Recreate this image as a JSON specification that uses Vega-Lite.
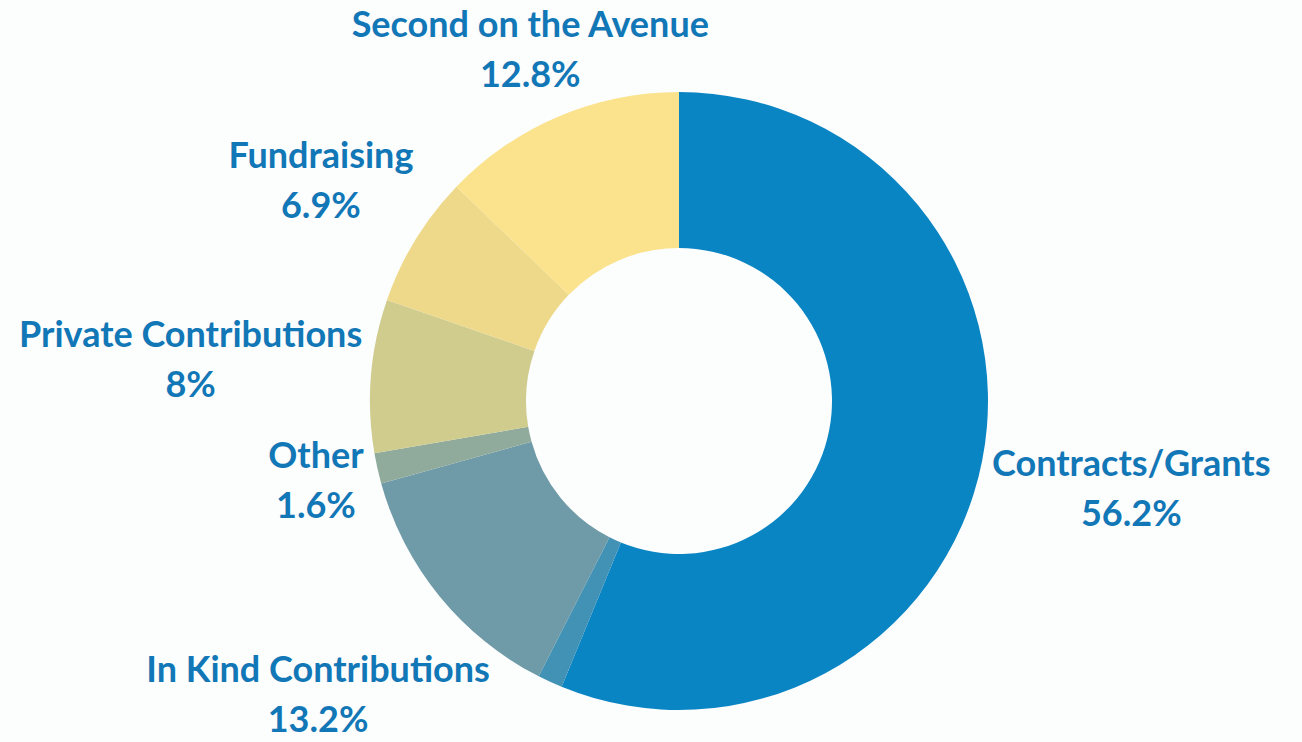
{
  "$schema": "https://vega.github.io/schema/vega-lite/v6.json",
  "width": 1246,
  "height": 682,
  "autosize": {"type": "none"},
  "padding": {"left": 56, "right": 0, "top": 60, "bottom": 0},
  "background": "#fcfdfd",
  "config": {"view": {"stroke": null}},
  "data": {
    "values": [
      {"idx": 1, "name": "Contracts/Grants", "value": 56.2, "label": ["Contracts/Grants", "56.2%"]},
      {"idx": 2, "name": "Unlabeled", "value": 1.3, "label": [""]},
      {"idx": 3, "name": "In Kind Contributions", "value": 13.2, "label": ["In Kind Contributions", "13.2%"]},
      {"idx": 4, "name": "Other", "value": 1.6, "label": ["Other", "1.6%"]},
      {"idx": 5, "name": "Private Contributions", "value": 8.0, "label": ["Private Contributions", "8%"]},
      {"idx": 6, "name": "Fundraising", "value": 6.9, "label": ["Fundraising", "6.9%"]},
      {"idx": 7, "name": "Second on the Avenue", "value": 12.8, "label": ["Second on the Avenue", "12.8%"]}
    ]
  },
  "layer": [
    {
      "mark": {"type": "arc", "outerRadius": 309, "innerRadius": 153, "stroke": null},
      "encoding": {
        "theta": {"field": "value", "type": "quantitative", "stack": true},
        "order": {"field": "idx", "type": "quantitative"},
        "color": {
          "field": "name",
          "type": "nominal",
          "legend": null,
          "scale": {
            "domain": ["Contracts/Grants", "Unlabeled", "In Kind Contributions", "Other", "Private Contributions", "Fundraising", "Second on the Avenue"],
            "range": ["#0a85c4", "#4192b5", "#6f9aa8", "#90aa9c", "#cfcc8e", "#eed98b", "#fae38c"]
          }
        }
      }
    },
    {
      "mark": {
        "type": "text",
        "font": "Lato",
        "fontWeight": "bold",
        "fontSize": 36,
        "lineHeight": 50,
        "align": "center",
        "baseline": "middle",
        "dy": -25,
        "color": "#1177b6",
        "radius": {"expr": "datum.name === 'Contracts/Grants' ? 461 : datum.name === 'In Kind Contributions' ? 466 : datum.name === 'Other' ? 372 : datum.name === 'Private Contributions' ? 490 : datum.name === 'Fundraising' ? 420 : 380"}
      },
      "encoding": {
        "theta": {"field": "value", "type": "quantitative", "stack": true},
        "order": {"field": "idx", "type": "quantitative"},
        "detail": {"field": "name", "type": "nominal"},
        "text": {"field": "label", "type": "nominal"}
      }
    }
  ]
}
